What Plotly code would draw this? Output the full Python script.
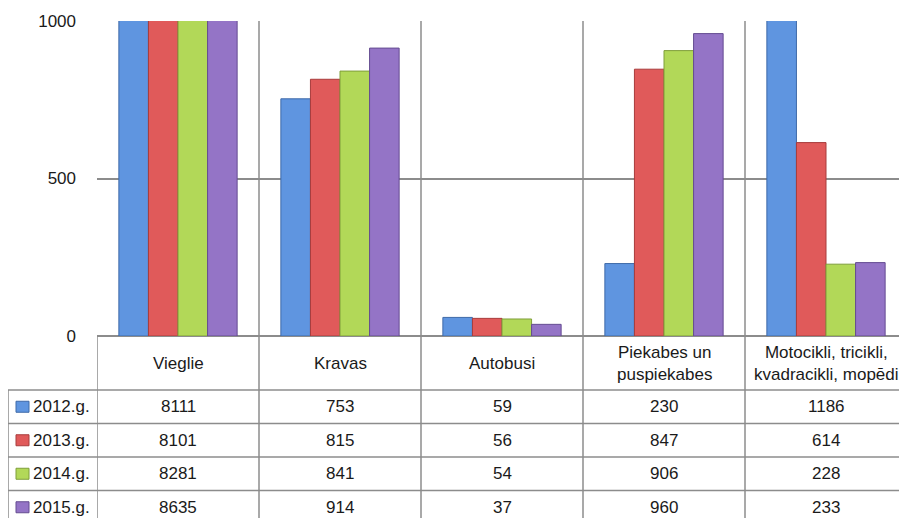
import plotly.graph_objects as go

categories = ["Vieglie", "Kravas", "Autobusi", "Piekabes un<br>puspiekabes",
              "Motocikli, tricikli,<br>kvadracikli, mopēdi"]
years = ["2012.g.", "2013.g.", "2014.g.", "2015.g."]
v2012 = [8111, 753, 59, 230, 1186]
v2013 = [8101, 815, 56, 847, 614]
v2014 = [8281, 841, 54, 906, 228]
v2015 = [8635, 914, 37, 960, 233]
series = [v2012, v2013, v2014, v2015]
y_ticks = [0, 500, 1000]

colors = ["#5f95e0", "#e05a5a", "#b2d858", "#9474c6"]
edge = ["#3f6aa8", "#a83c3c", "#7f9e3a", "#654c91"]

# page is offset by the 8px body margin; work in page pixels and convert
OFF = 8
PAGE_W, PAGE_H = 907, 518
W, H = PAGE_W - OFF, PAGE_H - OFF
PL, PT, PB = 97, 21, 336  # plot area in page pixels
L, R, T = PL - OFF, 0, PT - OFF
B = H - (PB - OFF)
PW, PH = W - L - R, H - T - B
FONT = "Liberation Sans, Arial, sans-serif"
FS = 17
GRID = "#8c8c8c"
TXT = "#1a1a1a"

def px(x):  # page x -> paper
    return (x - PL) / PW

def py(y):  # page y -> paper
    return (PB - y) / PH

xs = list(range(len(categories)))
fig = go.Figure()
for name, vals, c, e in zip(years, series, colors, edge):
    fig.add_trace(go.Bar(x=xs, y=vals, name=name, marker=dict(color=c, line=dict(color=e, width=1)),
                         showlegend=False))

shapes = []
annotations = []
ncat = len(categories)
for k in range(ncat):
    xb = k - 0.5
    y0 = py(PT) if k > 0 else py(PB)
    shapes.append(dict(type="line", xref="x", yref="paper", x0=xb, x1=xb, y0=y0, y1=py(PAGE_H + 2),
                       line=dict(color=GRID, width=1.5), layer="above"))
header_bottom = 390
row_h = 33.5
leg_left = 8
for i in range(len(years) + 1):
    yy = header_bottom + i * row_h
    if yy > PAGE_H:
        break
    shapes.append(dict(type="line", xref="paper", yref="paper", x0=px(leg_left), x1=1, y0=py(yy), y1=py(yy),
                       line=dict(color=GRID, width=1.5)))
shapes.append(dict(type="line", xref="paper", yref="paper", x0=px(leg_left), x1=px(leg_left),
                   y0=py(header_bottom), y1=py(PAGE_H + 2), line=dict(color=GRID, width=1.5)))
for k, cat in enumerate(categories):
    annotations.append(dict(x=k, xref="x", y=py((PB + header_bottom) / 2 + 0.5), yref="paper", text=cat,
                            showarrow=False, xanchor="center", yanchor="middle",
                            font=dict(size=FS, color=TXT), align="center"))
for i, (name, vals, c, e) in enumerate(zip(years, series, colors, edge)):
    yc = header_bottom + (i + 0.5) * row_h
    for k, v in enumerate(vals):
        annotations.append(dict(x=k, xref="x", y=py(yc), yref="paper", text=str(v), showarrow=False,
                                xanchor="center", yanchor="middle", font=dict(size=FS, color=TXT)))
    annotations.append(dict(x=px(31), xref="paper", y=py(yc), yref="paper", text=name, showarrow=False,
                            xanchor="left", yanchor="middle", font=dict(size=FS, color=TXT)))
    shapes.append(dict(type="rect", xref="paper", yref="paper", x0=px(16), x1=px(29), y0=py(yc - 5.5),
                       y1=py(yc + 5.5), fillcolor=c, line=dict(color=e, width=1)))

fig.update_layout(
    width=W, height=H, margin=dict(l=L, r=R, t=T, b=B),
    paper_bgcolor="white", plot_bgcolor="white",
    font=dict(family=FONT, size=FS, color=TXT),
    barmode="group", bargap=0.27, bargroupgap=0,
    xaxis=dict(range=[-0.5, ncat - 0.5], showticklabels=False, showgrid=False, zeroline=False,
               showline=False, ticks=""),
    yaxis=dict(range=[0, 1000], tickvals=y_ticks, showgrid=True, gridcolor=GRID, gridwidth=1.5,
               zeroline=True, zerolinecolor=GRID, zerolinewidth=1.5, showline=False, ticks="",
               ticklabelstandoff=20, tickfont=dict(size=FS, color=TXT)),
    shapes=shapes, annotations=annotations,
)
fig.write_html("out.html")
